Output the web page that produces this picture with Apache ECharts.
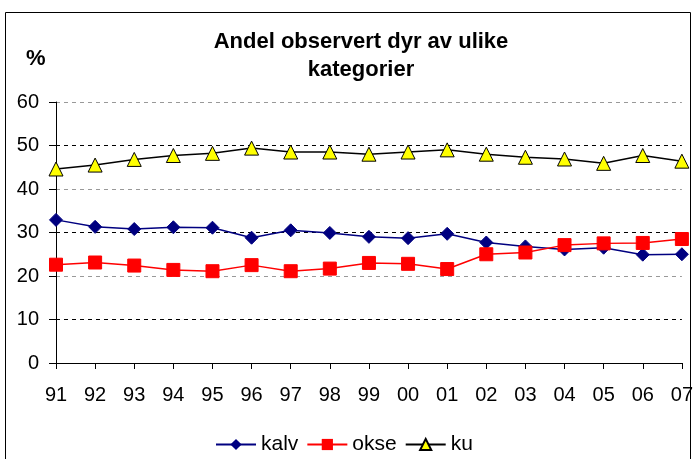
<!DOCTYPE html>
<html>
<head>
<meta charset="utf-8">
<script src="https://cdn.jsdelivr.net/npm/echarts@6/dist/echarts.min.js"></script>
<style>
  html, body { margin: 0; padding: 0; background: #fff; }
  #chart { width: 696px; height: 459px; }
</style>
</head>
<body>
<div id="chart"></div>
<script>
var years = ['91', '92', '93', '94', '95', '96', '97', '98', '99', '00', '01', '02', '03', '04', '05', '06', '07'];
var kalv = [32.9, 31.3, 30.8, 31.2, 31.1, 28.8, 30.5, 29.9, 29.0, 28.7, 29.7, 27.7, 26.8, 26.1, 26.5, 24.9, 25.0];
var okse = [22.6, 23.1, 22.4, 21.4, 21.1, 22.5, 21.1, 21.7, 23.0, 22.8, 21.6, 25.0, 25.4, 27.1, 27.5, 27.6, 28.5];
var ku = [44.6, 45.5, 46.8, 47.7, 48.2, 49.4, 48.5, 48.5, 48.0, 48.5, 49.0, 48.0, 47.3, 46.9, 45.9, 47.7, 46.4];

var font = '"Liberation Sans", Arial, sans-serif';
var chart = echarts.init(document.getElementById('chart'), null, { renderer: 'canvas' });

chart.setOption({
  animation: false,
  backgroundColor: '#fff',
  textStyle: { fontFamily: font, color: '#000' },
  title: {
    text: 'Andel observert dyr av ulike\nkategorier',
    left: 356,
    top: 23,
    textAlign: 'center',
    textStyle: { fontFamily: font, fontSize: 22, fontWeight: 'bold', color: '#000', lineHeight: 28 }
  },
  graphic: [
    {
      type: 'rect',
      shape: { x: 5.5, y: 12.5, width: 685, height: 460 },
      style: { fill: 'none', stroke: '#000', lineWidth: 1 }
    },
    {
      type: 'text',
      left: 26,
      top: 48,
      style: { text: '%', fontFamily: font, fontSize: 22, fontWeight: 'bold', fill: '#000' }
    }
  ],
  legend: {
    top: 429,
    left: 210,
    itemWidth: 40,
    itemHeight: 14,
    itemGap: 8,
    textStyle: { fontFamily: font, fontSize: 21, color: '#000' },
    data: ['kalv', 'okse', 'ku']
  },
  grid: { left: 56, right: 13, top: 102, bottom: 96, containLabel: false },
  xAxis: {
    type: 'category',
    data: years,
    boundaryGap: false,
    axisLine: { lineStyle: { color: '#000', width: 1 } },
    axisTick: { show: true, length: 6, lineStyle: { color: '#000' } },
    axisLabel: { color: '#000', fontSize: 20, fontFamily: font, margin: 22, interval: 0 },
    splitLine: { show: false }
  },
  yAxis: {
    type: 'value',
    min: 0,
    max: 60,
    interval: 10,
    axisLine: { show: true, lineStyle: { color: '#000', width: 1 } },
    axisTick: { show: true, length: 7, lineStyle: { color: '#000' } },
    axisLabel: { color: '#000', fontSize: 20, fontFamily: font, margin: 17 },
    splitLine: { show: true, lineStyle: { color: ['#999', '#000'], type: [4, 4], width: 1 } }
  },
  series: [
    {
      name: 'kalv',
      type: 'line',
      data: kalv,
      symbol: 'diamond',
      symbolSize: 13,
      lineStyle: { color: '#000080', width: 1.5 },
      itemStyle: { color: '#000080', borderColor: '#000080' }
    },
    {
      name: 'okse',
      type: 'line',
      data: okse,
      symbol: 'rect',
      symbolSize: 13,
      lineStyle: { color: '#ff0000', width: 1.5 },
      itemStyle: { color: '#ff0000', borderColor: '#ff0000' }
    },
    {
      name: 'ku',
      type: 'line',
      data: ku,
      symbol: 'triangle',
      symbolSize: 14,
      lineStyle: { color: '#000', width: 1.5 },
      itemStyle: { color: '#ffff00', borderColor: '#000', borderWidth: 1 }
    }
  ]
});
</script>
</body>
</html>
